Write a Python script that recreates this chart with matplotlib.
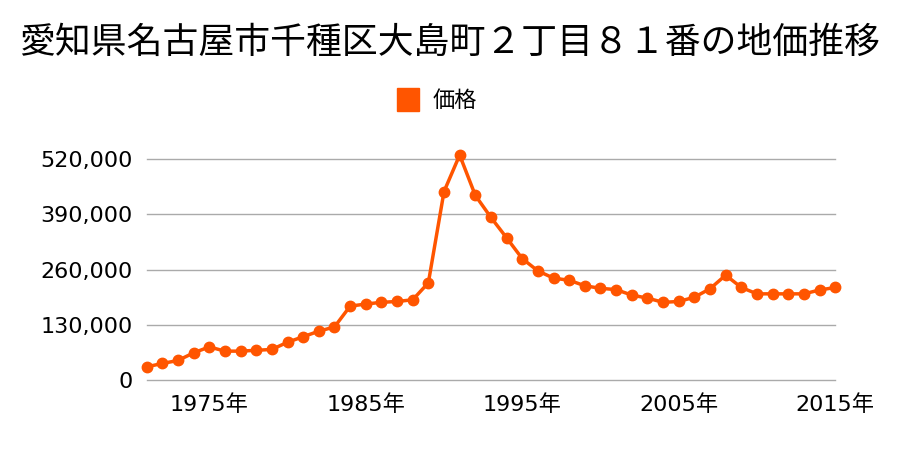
import matplotlib
matplotlib.use("Agg")
import matplotlib.pyplot as plt
from matplotlib.ticker import FuncFormatter

plt.rcParams['font.family'] = ['Noto Sans CJK JP', 'DejaVu Sans']

title = "愛知県名古屋市千種区大島町２丁目８１番の地価推移"
series_name = "価格"
years = list(range(1971, 2016))
prices = [31000, 39000, 46000, 64000, 78000, 68000, 68000, 70000, 72000, 89000,
          102000, 115000, 125000, 174000, 179000, 183000, 185000, 189000, 229000, 444000,
          530000, 435000, 383000, 335000, 286000, 257000, 240000, 235000, 222000, 216000,
          213000, 200000, 193000, 183000, 185000, 195000, 215000, 247000, 218000, 203000,
          203000, 203000, 203000, 212000, 218000]
yticks = [0, 130000, 260000, 390000, 520000]
xticks = [1975, 1985, 1995, 2005, 2015]
xticklabels = ["1975年", "1985年", "1995年", "2005年", "2015年"]

color = "#ff5500"
tick_family = ['DejaVu Sans', 'Noto Sans CJK JP']

fig = plt.figure(figsize=(9, 4.5), dpi=100)
ax = fig.add_axes([0.163, 1 - 380 / 450, 0.928 - 0.163, (380 - 148) / 450])
ax.plot(years, prices, color=color, linewidth=2.5, marker='o', markersize=7.5,
        clip_on=False, zorder=3)
ax.set_xlim(1971, 2015)
ax.set_ylim(0, 520000 * (380 - 148) / (380 - 159.3))
ax.set_yticks(yticks)
ax.yaxis.set_major_formatter(FuncFormatter(lambda v, p: f"{int(v):,}"))
ax.set_xticks(xticks)
ax.set_xticklabels(xticklabels)
for v in yticks:
    ax.axhline(v, color='#aaaaaa', linewidth=1, clip_on=False, zorder=1)
for s in ax.spines.values():
    s.set_visible(False)
ax.tick_params(axis='both', length=0, labelsize=16, colors='#000000')
ax.tick_params(axis='y', pad=10)
ax.tick_params(axis='x', pad=10)
for lab in ax.get_xticklabels() + ax.get_yticklabels():
    lab.set_family(tick_family)

fig.text(0.5, 1 - 43 / 450, title, ha='center', va='center', fontsize=25.8)
fig.patches.append(plt.Rectangle((397 / 900, 1 - 111 / 450), 22 / 900, 23 / 450,
                                 transform=fig.transFigure, color=color))
fig.text(433 / 900, 1 - 100 / 450, series_name, ha='left', va='center', fontsize=16)

fig.savefig("out.png", dpi=100)
